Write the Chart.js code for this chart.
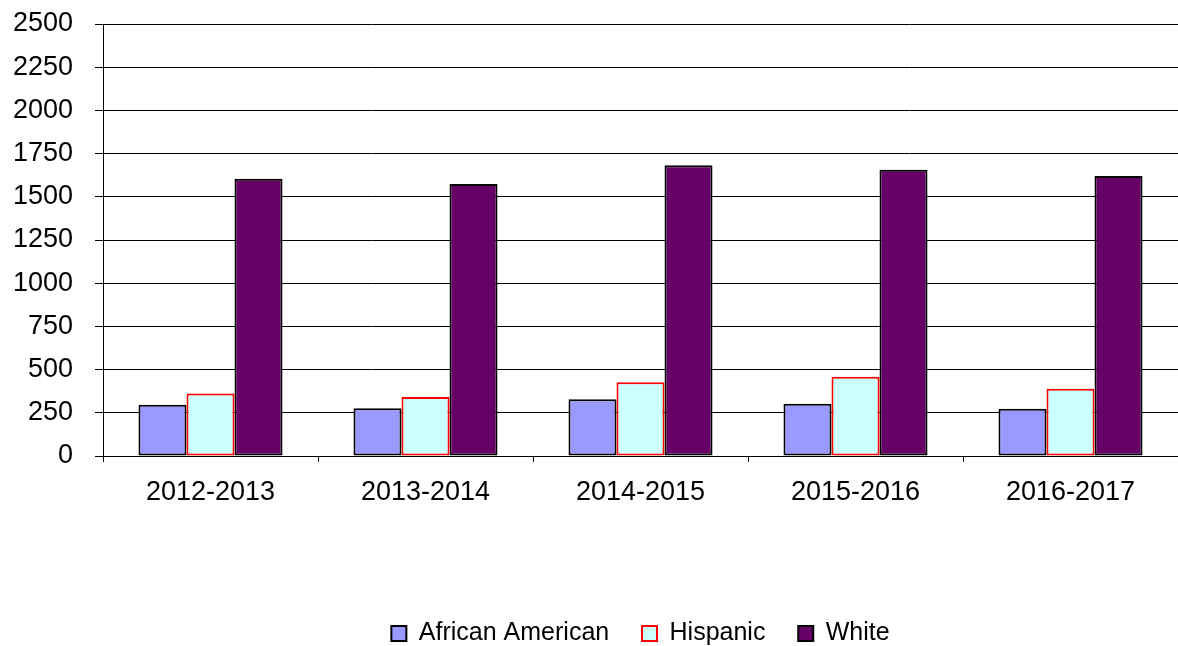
<!DOCTYPE html>
<html>
<head>
<meta charset="utf-8">
<script src="https://cdn.jsdelivr.net/npm/chart.js@4/dist/chart.umd.min.js"></script>
<style>
  html, body { margin: 0; padding: 0; background: #fff; }
  #wrap { width: 1178px; height: 646px; }
</style>
</head>
<body>
<div id="wrap"><canvas id="chart" width="1178" height="646"></canvas></div>
<script>
const years = ['2012-2013', '2013-2014', '2014-2015', '2015-2016', '2016-2017'];
const africanAmerican = [296, 277, 329, 303, 274];
const hispanic = [361, 342, 427, 458, 389];
const white = [1605, 1574, 1682, 1657, 1620];
const yTicks = [0, 250, 500, 750, 1000, 1250, 1500, 1750, 2000, 2250, 2500];

const FONT = "'Liberation Sans', Arial, sans-serif";

const ctx = document.getElementById('chart').getContext('2d');
new Chart(ctx, {
  type: 'bar',
  data: {
    labels: years,
    datasets: [
      { label: 'African American', data: africanAmerican, backgroundColor: '#9999ff', borderColor: '#000000', borderWidth: 2 },
      { label: 'Hispanic', data: hispanic, backgroundColor: '#ccffff', borderColor: '#ff0000', borderWidth: 2 },
      { label: 'White', data: white, backgroundColor: '#660066', borderColor: '#000000', borderWidth: 2 },
    ],
  },
  options: {
    responsive: false,
    animation: false,
    layout: { padding: { left: 0, right: 0, top: 24, bottom: -10 } },
    datasets: { bar: { categoryPercentage: 0.67, barPercentage: 1.0, borderSkipped: false } },
    scales: {
      x: {
        offset: true,
        grid: { offset: true, drawOnChartArea: false, drawTicks: true, tickLength: 6, color: '#000' },
        border: { display: true, color: '#000', width: 1 },
        ticks: { color: '#000', font: { family: FONT, size: 27 }, padding: 14, maxRotation: 0 },
        afterFit(scale) { scale.height = 153; },
      },
      y: {
        min: 0,
        max: 2500,
        afterBuildTicks(scale) { scale.ticks = yTicks.map(v => ({ value: v })); },
        grid: { color: '#000', lineWidth: 1, tickLength: 8, drawTicks: true },
        border: { display: true, color: '#000', width: 1 },
        ticks: { color: '#000', font: { family: FONT, size: 27 }, padding: 22, callback: v => String(v) },
        afterFit(scale) {
          scale.width = 103;
          scale.paddingTop = 0;
          scale.paddingBottom = 0;
        },
      },
    },
    plugins: {
      tooltip: { enabled: false },
      legend: {
        position: 'bottom',
        align: 'center',
        fullSize: false,
        labels: {
          color: '#000',
          font: { family: FONT, size: 25 },
          boxWidth: 15,
          boxHeight: 15,
          padding: 12,
          generateLabels(chart) {
            const items = Chart.defaults.plugins.legend.labels.generateLabels(chart);
            items.forEach((it, i) => { if (i < items.length - 1) it.text = it.text + '   '; });
            return items;
          },
        },
      },
    },
  },
});
</script>
</body>
</html>
